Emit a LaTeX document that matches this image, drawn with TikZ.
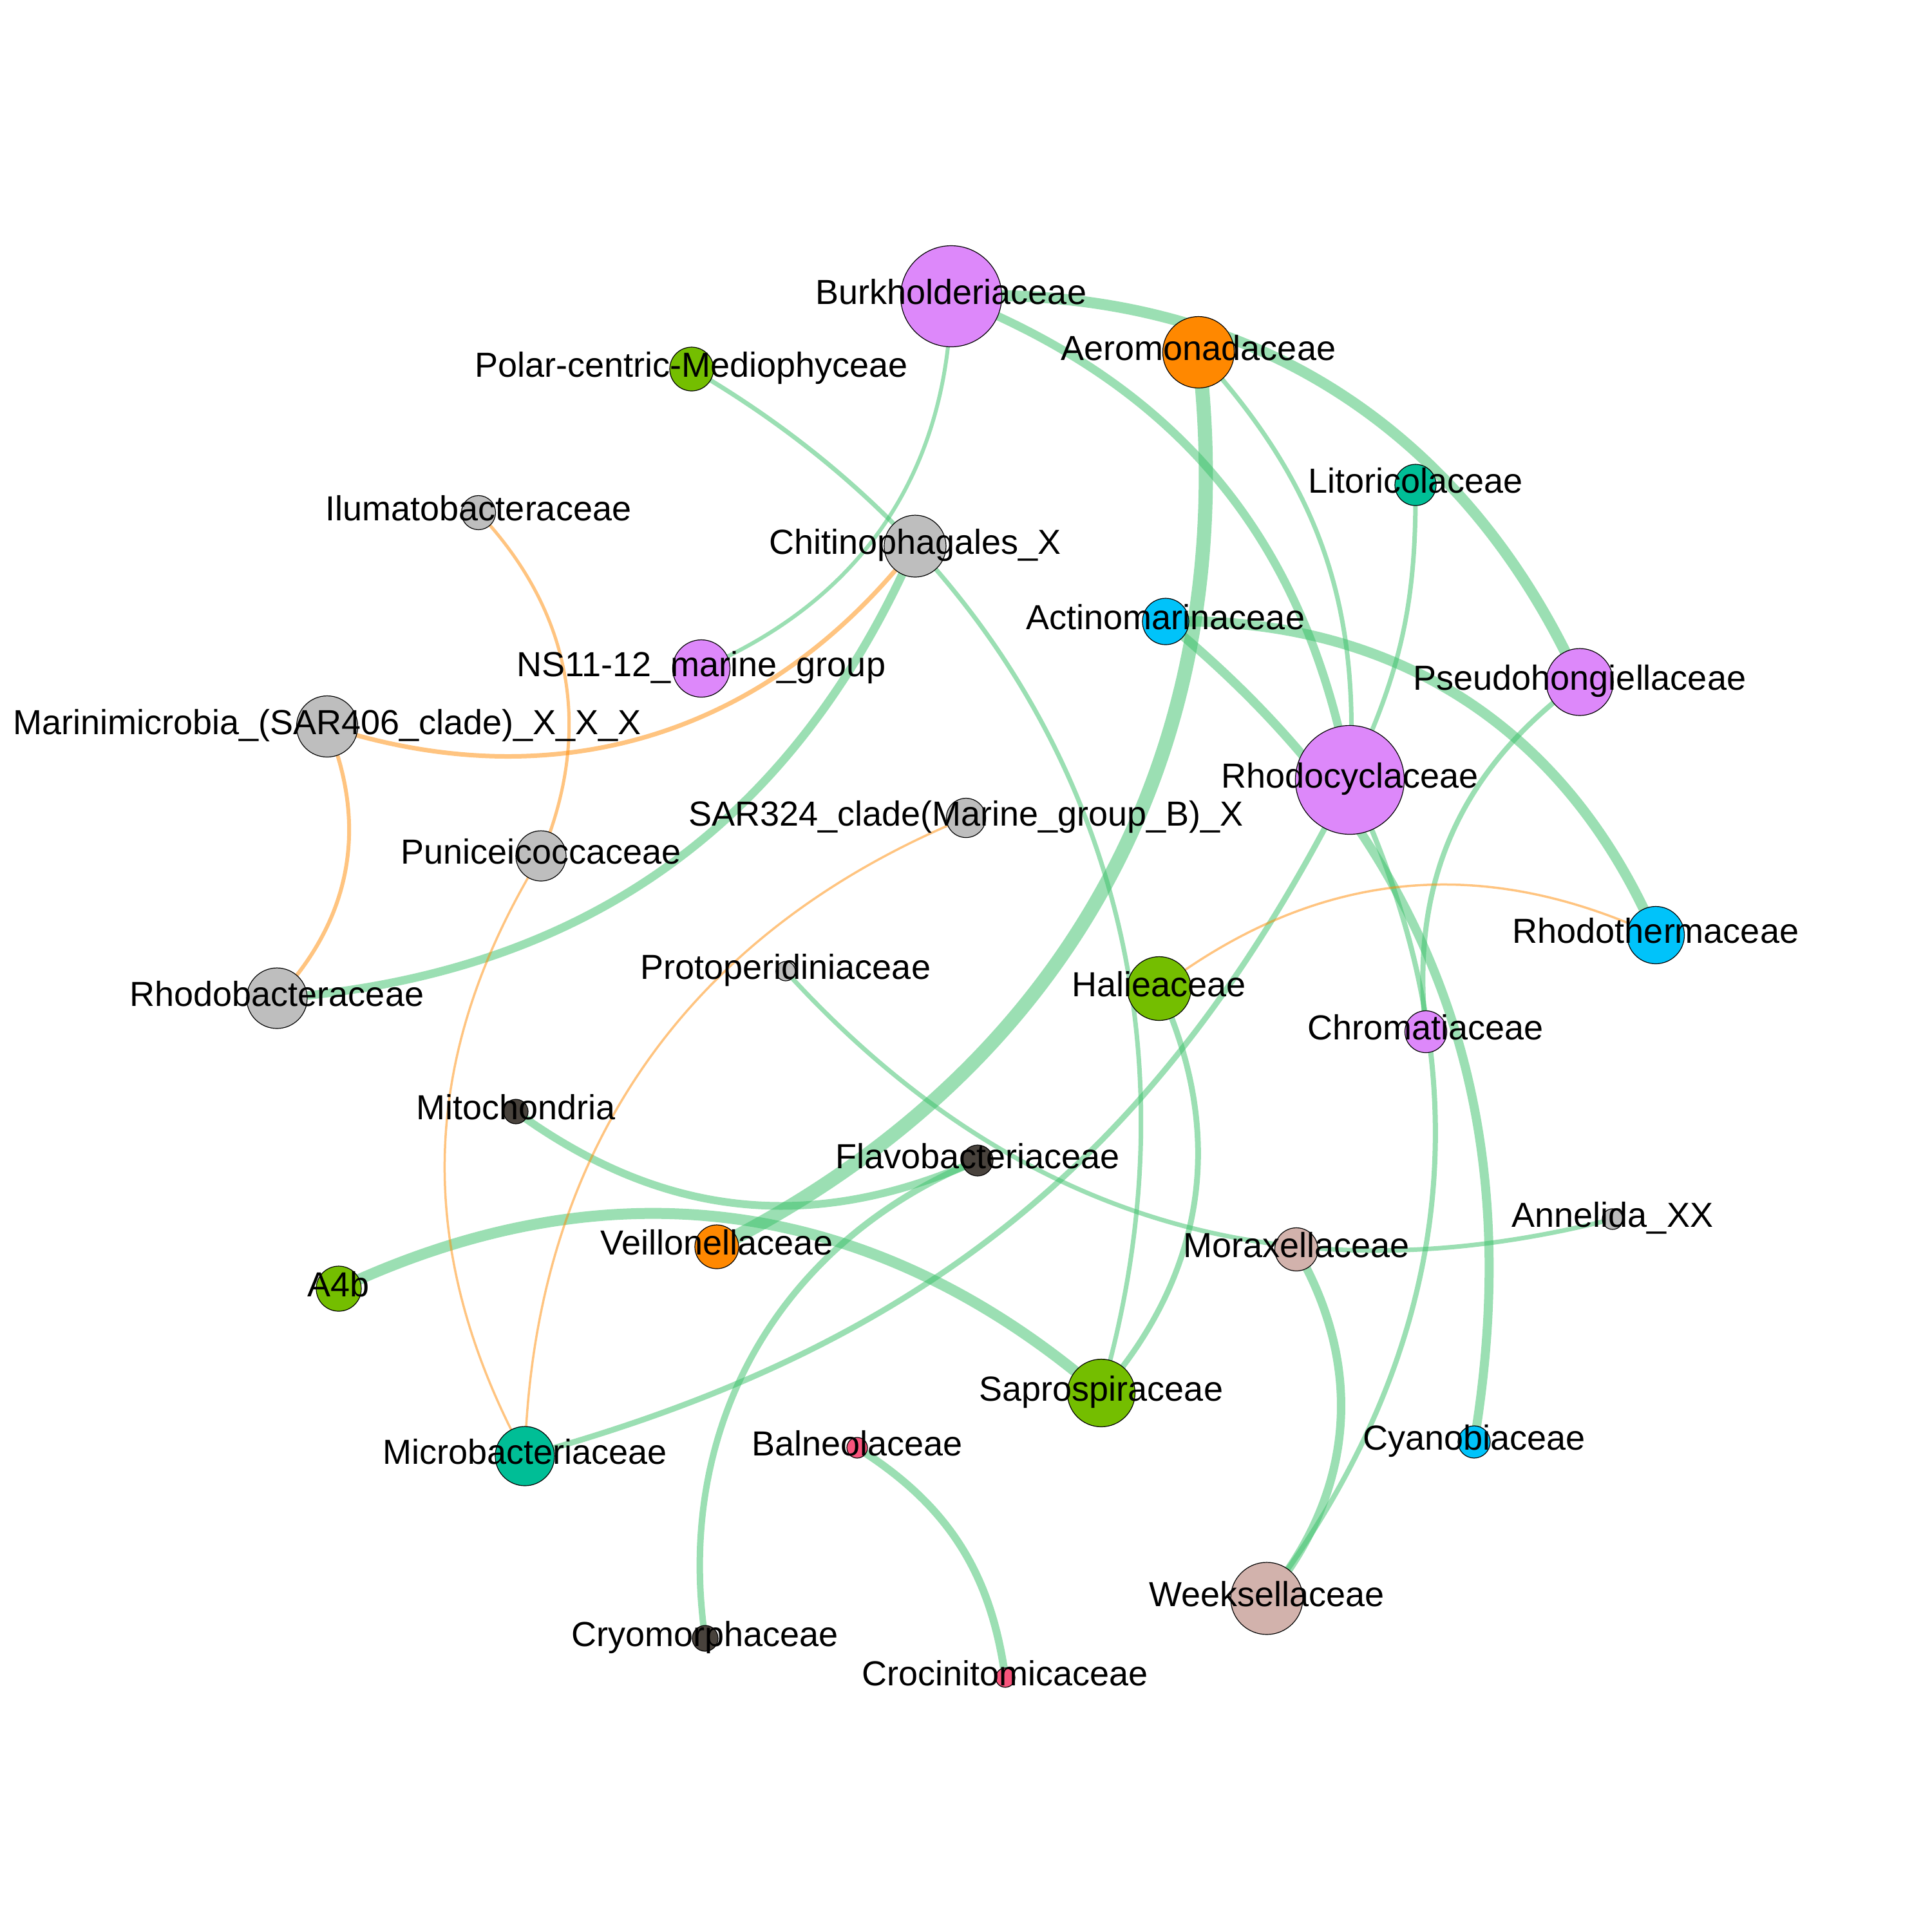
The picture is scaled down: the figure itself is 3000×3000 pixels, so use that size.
\documentclass[tikz,border=0pt]{standalone}
\usepackage{fontspec}
\setmainfont{Liberation Sans}
\usetikzlibrary{backgrounds}
\definecolor{cpur}{RGB}{221,136,250}
\definecolor{corg}{RGB}{255,136,0}
\definecolor{cgrn}{RGB}{116,190,0}
\definecolor{ctea}{RGB}{0,190,150}
\definecolor{ccya}{RGB}{0,195,250}
\definecolor{cgry}{RGB}{190,190,190}
\definecolor{cdrk}{RGB}{72,66,60}
\definecolor{cbei}{RGB}{210,178,172}
\definecolor{cpnk}{RGB}{248,84,124}
\definecolor{egreen}{RGB}{56,191,103}
\definecolor{eorange}{RGB}{255,137,1}
\tikzset{
  vert/.style={circle, draw=black, line width=0.12pt, inner sep=0pt, minimum size=#1},
  lab/.style={anchor=base, inner sep=0pt, font=\fontsize{5.4}{6}\selectfont},
  gedge/.style={draw=egreen, draw opacity=0.5, line width=#1},
  oedge/.style={draw=eorange, draw opacity=0.5, line width=#1},
}
\begin{document}
\begin{tikzpicture}[x=0.1pt,y=-0.1pt]
\useasboundingbox (0,0) rectangle (3000,3000);
% nodes
\node[vert=15.7pt, fill=cpur] (burk) at (1477,460) {};
\node[vert=11.1pt, fill=corg] (aero) at (1861,547) {};
\node[vert=6.8pt, fill=cgrn] (polar) at (1074,573) {};
\node[vert=6.4pt, fill=ctea] (lito) at (2198,753) {};
\node[vert=5.3pt, fill=cgry] (ilum) at (743,796) {};
\node[vert=9.6pt, fill=cgry] (chit) at (1421,848) {};
\node[vert=7.2pt, fill=ccya] (acti) at (1810,965) {};
\node[vert=8.9pt, fill=cpur] (ns11) at (1089,1038) {};
\node[vert=10.4pt, fill=cpur] (pseu) at (2453,1059) {};
\node[vert=9.5pt, fill=cgry] (mari) at (508,1128) {};
\node[vert=16.9pt, fill=cpur] (rhcy) at (2096,1211) {};
\node[vert=6.1pt, fill=cgry] (sar) at (1500,1270) {};
\node[vert=7.8pt, fill=cgry] (puni) at (840,1329) {};
\node[vert=8.9pt, fill=ccya] (rhth) at (2571,1452) {};
\node[vert=3.0pt, fill=cgry] (prot) at (1220,1508) {};
\node[vert=9.9pt, fill=cgrn] (hali) at (1800,1535) {};
\node[vert=9.4pt, fill=cgry] (rhba) at (430,1550) {};
\node[vert=6.5pt, fill=cpur] (chro) at (2214,1602) {};
\node[vert=3.8pt, fill=cdrk] (mito) at (801,1726) {};
\node[vert=4.8pt, fill=cdrk] (flav) at (1518,1802) {};
\node[vert=3.2pt, fill=cgry] (anne) at (2504,1893) {};
\node[vert=6.8pt, fill=corg] (veil) at (1113,1936) {};
\node[vert=6.7pt, fill=cbei] (mora) at (2013,1940) {};
\node[vert=7.0pt, fill=cgrn] (a4b) at (526,2001) {};
\node[vert=10.5pt, fill=cgrn] (sapr) at (1710,2163) {};
\node[vert=9.2pt, fill=ctea] (micr) at (815,2261) {};
\node[vert=3.2pt, fill=cpnk] (baln) at (1331,2248) {};
\node[vert=5.0pt, fill=ccya] (cyan) at (2289,2239) {};
\node[vert=11.2pt, fill=cbei] (week) at (1967,2482) {};
\node[vert=4.0pt, fill=cdrk] (cryo) at (1095,2544) {};
\node[vert=3.0pt, fill=cpnk] (croc) at (1561,2605) {};
% edges
\begin{pgfonlayer}{background}
\draw[gedge=1.7pt] (burk.center) to[bend left=34] (pseu.center);
\draw[gedge=1.3pt] (burk.center) to[bend left=29] (rhcy.center);
\draw[gedge=0.6pt] (burk.center) to[bend left=33] (ns11.center);
\draw[gedge=2.2pt] (aero.center) to[bend left=35] (veil.center);
\draw[gedge=0.7pt] (aero.center) to[bend left=23] (rhcy.center);
\draw[gedge=0.7pt] (lito.center) to[bend left=13] (rhcy.center);
\draw[gedge=1.4pt] (acti.center) to[bend left=30] (cyan.center);
\draw[gedge=1.6pt] (acti.center) to[bend left=34] (rhth.center);
\draw[gedge=1.3pt] (chit.center) to[bend left=31] (rhba.center);
\draw[gedge=0.7pt] (polar.center) to[bend left=38] (sapr.center);
\draw[gedge=0.9pt] (hali.center) to[bend left=33] (sapr.center);
\draw[gedge=0.9pt] (rhcy.center) to[bend left=24] (micr.center);
\draw[gedge=0.8pt] (rhcy.center) to[bend left=31] (week.center);
\draw[gedge=0.8pt] (pseu.center) to[bend right=30] (chro.center);
\draw[gedge=0.7pt] (prot.center) to[bend right=31] (anne.center);
\draw[gedge=1.2pt] (mito.center) to[bend right=30] (flav.center);
\draw[gedge=1.7pt] (a4b.center) to[bend left=33] (sapr.center);
\draw[gedge=1.0pt] (flav.center) to[bend right=38] (cryo.center);
\draw[gedge=1.3pt] (mora.center) to[bend left=35] (week.center);
\draw[gedge=1.2pt] (baln.center) to[bend left=25] (croc.center);
\draw[oedge=0.7pt] (chit.center) to[bend left=35] (mari.center);
\draw[oedge=0.5pt] (ilum.center) to[bend left=33] (puni.center);
\draw[oedge=0.6pt] (mari.center) to[bend left=33] (rhba.center);
\draw[oedge=0.35pt] (puni.center) to[bend right=30] (micr.center);
\draw[oedge=0.35pt] (sar.center) to[bend right=33] (micr.center);
\draw[oedge=0.35pt] (hali.center) to[bend left=31] (rhth.center);
\end{pgfonlayer}
% labels
\node[lab] (burk-l) at (1477,472) {Burkholderiaceae};
\node[lab] (aero-l) at (1861,559) {Aeromonadaceae};
\node[lab] (polar-l) at (1074,585) {Polar-centric-Mediophyceae};
\node[lab] (lito-l) at (2198,765) {Litoricolaceae};
\node[lab] (ilum-l) at (743,808) {Ilumatobacteraceae};
\node[lab] (chit-l) at (1421,860) {Chitinophagales\_X};
\node[lab] (acti-l) at (1810,977) {Actinomarinaceae};
\node[lab] (ns11-l) at (1089,1050) {NS11-12\_marine\_group};
\node[lab] (pseu-l) at (2453,1071) {Pseudohongiellaceae};
\node[lab] (mari-l) at (508,1140) {Marinimicrobia\_(SAR406\_clade)\_X\_X\_X};
\node[lab] (rhcy-l) at (2096,1223) {Rhodocyclaceae};
\node[lab] (sar-l) at (1500,1282) {SAR324\_clade(Marine\_group\_B)\_X};
\node[lab] (puni-l) at (840,1341) {Puniceicoccaceae};
\node[lab] (rhth-l) at (2571,1464) {Rhodothermaceae};
\node[lab] (prot-l) at (1220,1520) {Protoperidiniaceae};
\node[lab] (hali-l) at (1800,1547) {Halieaceae};
\node[lab] (rhba-l) at (430,1562) {Rhodobacteraceae};
\node[lab] (chro-l) at (2214,1614) {Chromatiaceae};
\node[lab] (mito-l) at (801,1738) {Mitochondria};
\node[lab] (flav-l) at (1518,1814) {Flavobacteriaceae};
\node[lab] (anne-l) at (2504,1905) {Annelida\_XX};
\node[lab] (veil-l) at (1113,1948) {Veillonellaceae};
\node[lab] (mora-l) at (2013,1952) {Moraxellaceae};
\node[lab] (a4b-l) at (526,2013) {A4b};
\node[lab] (sapr-l) at (1710,2175) {Saprospiraceae};
\node[lab] (micr-l) at (815,2273) {Microbacteriaceae};
\node[lab] (baln-l) at (1331,2260) {Balneolaceae};
\node[lab] (cyan-l) at (2289,2251) {Cyanobiaceae};
\node[lab] (week-l) at (1967,2494) {Weeksellaceae};
\node[lab] (cryo-l) at (1095,2556) {Cryomorphaceae};
\node[lab] (croc-l) at (1561,2617) {Crocinitomicaceae};
\end{tikzpicture}
\end{document}
